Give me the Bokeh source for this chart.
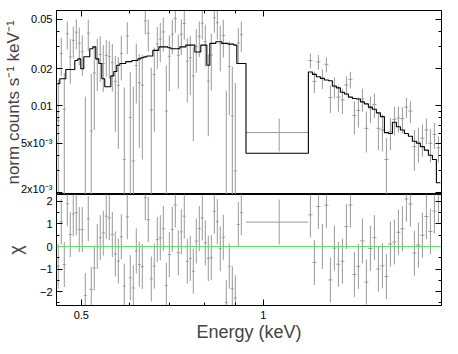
import numpy as np
from bokeh.plotting import figure
from bokeh.layouts import column
from bokeh.models import (LogAxis, LinearAxis, FixedTicker, Span, ColumnDataSource, Range1d,
                          CustomJSTickFormatter)
from bokeh.embed import file_html
from bokeh.resources import INLINE

# ---------------- data ----------------
energies_a = [0.4581, 0.4634, 0.4687, 0.4741, 0.4795, 0.4850, 0.4906, 0.4962, 0.5019, 0.5077,
              0.5135, 0.5194, 0.5254, 0.5314, 0.5375, 0.5437, 0.5499, 0.5563, 0.5627, 0.5691,
              0.5757, 0.5823, 0.5890, 0.5957, 0.6026, 0.6095, 0.6165, 0.6236, 0.6308, 0.6380,
              0.6453, 0.6527, 0.6602, 0.6678, 0.6755, 0.6833, 0.6911, 0.6991, 0.7071, 0.7152,
              0.7234, 0.7317, 0.7401, 0.7486, 0.7572, 0.7659, 0.7747, 0.7836, 0.7926, 0.8017,
              0.8109, 0.8202, 0.8297, 0.8392, 0.8488, 0.8586, 0.8684, 0.8784, 0.8885, 0.8987,
              0.9090, 0.9195]
counts_a = [0.0076, 0.0265, 0.0094, 0.0383, 0.0249, 0.0339, 0.0394, 0.0321, 0.0274, 0.0008,
            0.0387, 0.0063, 0.0185, 0.0240, 0.0261, 0.0220, 0.0256, 0.0250, 0.0224, 0.0158,
            0.0147, 0.0265, 0.0037, 0.0368, 0.0081, 0.0036, 0.0212, 0.0154, 0.0147, 0.0487,
            0.0386, 0.0093, 0.0179, 0.0317, 0.0347, 0.0396, 0.0091, 0.0252, 0.0380, 0.0509,
            0.0257, 0.0379, 0.0463, 0.0230, 0.0245, 0.0175, 0.0301, 0.0365, 0.0466, 0.0330,
            0.0159, 0.0258, 0.0516, 0.0470, 0.0317, 0.0371, 0.0008, 0.0208, 0.0083, 0.0030,
            0.0322, 0.0376]
errors_a = [0.0086, 0.0090, 0.0090, 0.0098, 0.0098, 0.0098, 0.0107, 0.0108, 0.0099, 0.0111,
            0.0111, 0.0119, 0.0121, 0.0108, 0.0104, 0.0090, 0.0084, 0.0084, 0.0093, 0.0096,
            0.0102, 0.0104, 0.0104, 0.0106, 0.0106, 0.0107, 0.0107, 0.0108, 0.0110, 0.0110,
            0.0111, 0.0111, 0.0117, 0.0117, 0.0121, 0.0121, 0.0121, 0.0120, 0.0119, 0.0119,
            0.0119, 0.0121, 0.0121, 0.0123, 0.0123, 0.0123, 0.0116, 0.0116, 0.0123, 0.0123,
            0.0102, 0.0125, 0.0125, 0.0127, 0.0127, 0.0125, 0.0125, 0.0124, 0.0124, 0.0123,
            0.0104, 0.0104]
model_a = [0.0151, 0.0166, 0.0166, 0.0197, 0.0197, 0.0197, 0.0233, 0.0240, 0.0200, 0.0250,
           0.0250, 0.0290, 0.0300, 0.0240, 0.0220, 0.0166, 0.0143, 0.0143, 0.0175, 0.0190,
           0.0213, 0.0220, 0.0220, 0.0228, 0.0228, 0.0233, 0.0233, 0.0240, 0.0245, 0.0249,
           0.0253, 0.0253, 0.0281, 0.0281, 0.0300, 0.0300, 0.0300, 0.0295, 0.0290, 0.0290,
           0.0290, 0.0300, 0.0300, 0.0310, 0.0310, 0.0310, 0.0273, 0.0273, 0.0310, 0.0310,
           0.0213, 0.0320, 0.0320, 0.0330, 0.0330, 0.0320, 0.0320, 0.0316, 0.0316, 0.0310,
           0.0220, 0.0220]
halfwidth_a = 1.0057   # bin half-width ratio

energy_wide = 1.062
energy_wide_lo = 0.936
energy_wide_hi = 1.186
counts_wide = 0.0061
errors_wide = 0.0018
model_wide = 0.00415

energies_c = [1.1960, 1.2144, 1.2330, 1.2519, 1.2711, 1.2906, 1.3104, 1.3305, 1.3510, 1.3717,
              1.3928, 1.4141, 1.4358, 1.4579, 1.4802, 1.5029, 1.5260, 1.5494, 1.5732, 1.5973,
              1.6218, 1.6467, 1.6720, 1.6976, 1.7237, 1.7501, 1.7770, 1.8042, 1.8319, 1.8600,
              1.8886, 1.9176, 1.9470]
counts_c = [0.0233, 0.0158, 0.0227, 0.0167, 0.0217, 0.0117, 0.0143, 0.0118, 0.0112, 0.0148,
            0.0164, 0.0084, 0.0092, 0.0114, 0.0066, 0.0096, 0.0103, 0.0066, 0.0064, 0.0037,
            0.0062, 0.0078, 0.0080, 0.0079, 0.0098, 0.0091, 0.0047, 0.0051, 0.0055, 0.0064,
            0.0050, 0.0059, 0.0046]
errors_c = [0.0032, 0.0031, 0.0031, 0.0030, 0.0030, 0.0029, 0.0028, 0.0028, 0.0026, 0.0026,
            0.0025, 0.0025, 0.0025, 0.0024, 0.0024, 0.0023, 0.0023, 0.0022, 0.0021, 0.0018,
            0.0018, 0.0020, 0.0019, 0.0019, 0.0018, 0.0018, 0.0017, 0.0016, 0.0016, 0.0015,
            0.0015, 0.0014, 0.0011]
model_c = [0.0188, 0.0180, 0.0172, 0.0167, 0.0162, 0.0160, 0.0145, 0.0140, 0.0129, 0.0125,
           0.0118, 0.0115, 0.0114, 0.0108, 0.0104, 0.0098, 0.0094, 0.0088, 0.0082, 0.0061,
           0.0060, 0.0074, 0.0068, 0.0064, 0.0060, 0.0057, 0.0052, 0.0050, 0.0047, 0.0044,
           0.0040, 0.0037, 0.0024]
halfwidth_c = 1.0077

x_ticks = [0.5, 1, 2]
x_minor = [0.6, 0.7, 0.8, 0.9]
y_ticks = [0.002, 0.005, 0.01, 0.02, 0.05]
y_minor = [0.003, 0.004, 0.006, 0.007, 0.008, 0.009, 0.03, 0.04]
y_labels = {0.002: "2x10⁻³", 0.005: "5x10⁻³", 0.01: "0.01", 0.02: "0.02", 0.05: "0.05"}
chi_ticks = [-2, -1, 0, 1, 2]
chi_minor = [-2.5, -1.5, -0.5, 0.5, 1.5]

# ---------------- derived arrays ----------------
E = np.array(energies_a + [energy_wide] + energies_c)
lo = np.concatenate([np.array(energies_a) / halfwidth_a, [energy_wide_lo], np.array(energies_c) / halfwidth_c])
hi = np.concatenate([np.array(energies_a) * halfwidth_a, [energy_wide_hi], np.array(energies_c) * halfwidth_c])
cts = np.array(counts_a + [counts_wide] + counts_c)
err = np.array(errors_a + [errors_wide] + errors_c)
mod = np.array(model_a + [model_wide] + model_c)
chi = (cts - mod) / err

src = ColumnDataSource(dict(E=E, lo=lo, hi=hi, c=cts,
                            c0=np.maximum(cts - err, 1e-6), c1=cts + err,
                            chi=chi, chi0=chi - 1, chi1=chi + 1))

mx, my = [], []
for i in range(len(E)):
    end = lo[i + 1] if i + 1 < len(E) else hi[i]
    mx += [lo[i], end]
    my += [mod[i], mod[i]]

FONT = "Liberation Sans"
BAR = "#9a9a9a"
BLANK = CustomJSTickFormatter(code="return ''")

def style_axis(ax, labels=True, size="11px", standoff=4):
    ax.major_tick_in = 6
    ax.major_tick_out = 0
    ax.minor_tick_in = 3
    ax.minor_tick_out = 0
    ax.axis_line_color = "black"
    ax.major_tick_line_color = "black"
    ax.minor_tick_line_color = "black"
    ax.major_label_text_font = FONT
    ax.major_label_text_color = "black"
    if labels:
        ax.major_label_text_font_size = size
        ax.major_label_standoff = standoff
    else:
        ax.formatter = BLANK
        ax.major_label_text_font_size = "0px"
        ax.major_label_standoff = 0

xr = Range1d(0.455, 1.97)

# ---------------- top panel ----------------
p1 = figure(frame_width=385, frame_height=184, x_axis_type="log", y_axis_type="log",
            x_range=xr, y_range=Range1d(0.00193, 0.059),
            output_backend="svg", toolbar_location=None,
            min_border_left=48, min_border_right=5, min_border_top=10, min_border_bottom=0)
p1.grid.visible = False
p1.outline_line_color = "black"
p1.background_fill_color = "white"
p1.border_fill_color = "white"

p1.segment(x0="lo", x1="hi", y0="c", y1="c", source=src, line_color=BAR, line_width=1)
p1.segment(x0="E", x1="E", y0="c0", y1="c1", source=src, line_color=BAR, line_width=1)
p1.line(mx, my, line_color="black", line_width=1.1)

p1.xaxis.visible = False
p1.yaxis.ticker = FixedTicker(ticks=y_ticks, minor_ticks=y_minor)
p1.yaxis.major_label_overrides = y_labels
style_axis(p1.yaxis[0])
p1.yaxis.axis_label = "norm counts s⁻¹ keV⁻¹"
p1.yaxis.axis_label_text_font = FONT
p1.yaxis.axis_label_text_font_size = "17px"
p1.yaxis.axis_label_text_font_style = "normal"
p1.yaxis.axis_label_standoff = -5

ax_top = LogAxis(ticker=FixedTicker(ticks=x_ticks, minor_ticks=x_minor))
style_axis(ax_top, labels=False)
p1.add_layout(ax_top, "above")
ax_right = LogAxis(ticker=FixedTicker(ticks=y_ticks, minor_ticks=y_minor))
style_axis(ax_right, labels=False)
p1.add_layout(ax_right, "right")

# ---------------- residual panel ----------------
p2 = figure(frame_width=385, frame_height=111, x_axis_type="log",
            x_range=xr, y_range=Range1d(-2.62, 2.31),
            output_backend="svg", toolbar_location=None,
            min_border_left=48, min_border_right=5, min_border_top=0, min_border_bottom=40)
p2.grid.visible = False
p2.outline_line_color = "black"
p2.background_fill_color = "white"
p2.border_fill_color = "white"

p2.add_layout(Span(location=0, dimension="width", line_color="#66dd66", line_width=1))
p2.segment(x0="lo", x1="hi", y0="chi", y1="chi", source=src, line_color=BAR, line_width=1)
p2.segment(x0="E", x1="E", y0="chi0", y1="chi1", source=src, line_color=BAR, line_width=1)

p2.xaxis.ticker = FixedTicker(ticks=x_ticks, minor_ticks=x_minor)
style_axis(p2.xaxis[0], standoff=5)
p2.xaxis.axis_label = "Energy (keV)"
p2.xaxis.axis_label_text_font = FONT
p2.xaxis.axis_label_text_font_size = "18px"
p2.xaxis.axis_label_text_font_style = "normal"
p2.xaxis.axis_label_standoff = 0
p2.yaxis.ticker = FixedTicker(ticks=chi_ticks, minor_ticks=chi_minor)
style_axis(p2.yaxis[0])
p2.yaxis.axis_label = "χ"
p2.yaxis.axis_label_text_font = FONT
p2.yaxis.axis_label_text_font_size = "18px"
p2.yaxis.axis_label_text_font_style = "normal"
p2.yaxis.axis_label_standoff = 11

ax_right2 = LinearAxis(ticker=FixedTicker(ticks=chi_ticks, minor_ticks=chi_minor))
style_axis(ax_right2, labels=False)
p2.add_layout(ax_right2, "right")

layout = column(p1, p2, spacing=0)
open("out.html", "w").write(file_html(layout, INLINE))
